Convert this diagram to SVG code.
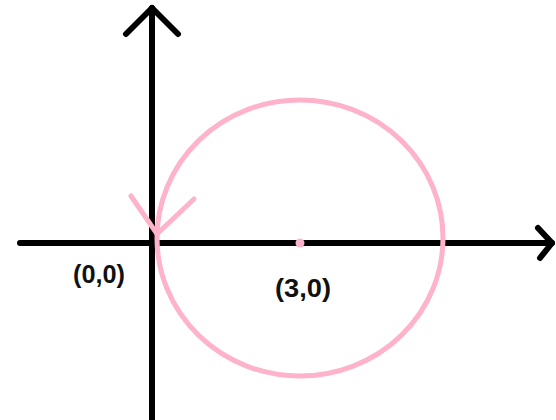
<svg xmlns="http://www.w3.org/2000/svg" width="556" height="420" viewBox="0 0 556 420">
<style>
.axis{stroke:#000;stroke-width:6;fill:none;stroke-linecap:round;stroke-linejoin:round}
.pink{stroke:#FFB3CA;stroke-width:5;fill:none;stroke-linecap:round}
.lbl{font-family:"Liberation Sans",Arial,sans-serif;font-weight:bold;font-size:26px;fill:#111;text-anchor:middle}
</style>
<rect width="556" height="420" fill="#fff"/>
<g id="connectors">
<line class="axis" x1="152" y1="420" x2="152" y2="8"/>
<polyline class="axis" points="126,34 152,8 178,34"/>
<line class="axis" x1="20" y1="243" x2="552" y2="243"/>
<polyline class="axis" points="538,228 552,243 540,258"/>
</g>
<g id="circle">
<ellipse class="pink" cx="300" cy="238" rx="143" ry="138"/>
<polyline class="pink" points="131,196 157,234 194,199"/>
<circle cx="300" cy="243" r="4.5" fill="#FFB3CA"/>
</g>
<g id="origin"><text class="lbl" x="99" y="283" textLength="52" lengthAdjust="spacingAndGlyphs">(0,0)</text></g>
<g id="center"><text class="lbl" x="303" y="297" textLength="56" lengthAdjust="spacingAndGlyphs">(3,0)</text></g>
</svg>
